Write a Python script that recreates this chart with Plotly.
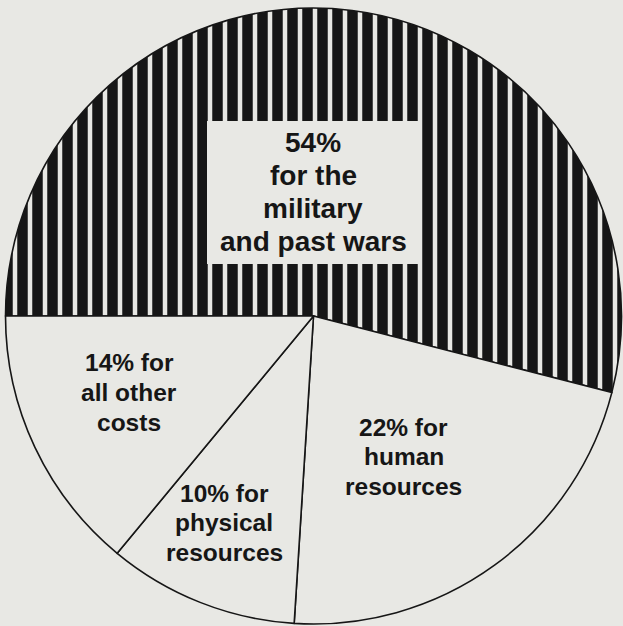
import plotly.graph_objects as go

# Data
categories = ["for the military and past wars", "for human resources",
              "for physical resources", "for all other costs"]
shares = [54, 22, 10, 14]
label_lines = [
    ["54%", "for the", "military", "and past wars"],
    ["22% for", "human", "resources"],
    ["10% for", "physical", "resources"],
    ["14% for", "all other", "costs"],
]

W, H = 623, 626
BG = "#e8e8e4"
INK = "#161616"

fig = go.Figure(go.Pie(
    labels=categories,
    values=shares,
    sort=False,
    direction="clockwise",
    rotation=270,
    textinfo="none",
    hoverinfo="label+value",
    showlegend=False,
    marker=dict(
        colors=[BG, BG, BG, BG],
        line=dict(color=INK, width=1.6),
        pattern=dict(
            shape=["|", "", "", ""],
            fgcolor=INK,
            bgcolor=BG,
            size=15,
            solidity=0.7,
        ),
    ),
    domain=dict(x=[(313.5 - 308) / W, (313.5 + 308) / W],
                y=[(H - 316 - 308) / H, (H - 316 + 308) / H]),
))

# label layout (pixel positions): center x, first line center y, line step, font size
placements = [
    (313, 142.5, 33.0, 28),
    (404, 427.0, 29.8, 24.5),
    (224, 493.0, 29.8, 24.5),
    (129, 362.5, 29.8, 24.5),
]

annos = []
for lines, (cx, y0, step, fs) in zip(label_lines, placements):
    for i, line in enumerate(lines):
        annos.append(dict(
            x=cx / W, y=1 - (y0 + i * step) / H, xref="paper", yref="paper",
            text="<b>" + line + "</b>", showarrow=False,
            xanchor="center", yanchor="middle",
            font=dict(family="Liberation Sans", size=fs, color=INK)))

# plain box behind the military label
box = dict(type="rect", xref="paper", yref="paper",
           x0=207 / W, x1=419 / W, y0=1 - 264 / H, y1=1 - 121 / H,
           fillcolor=BG, line=dict(width=0), layer="above")

fig.update_layout(
    width=W, height=H,
    margin=dict(l=0, r=0, t=0, b=0),
    paper_bgcolor=BG, plot_bgcolor=BG,
    annotations=annos,
    shapes=[box],
)

fig.write_html("out.html",
               config={"displayModeBar": False},
               post_script="document.body.style.margin='0';"
                           "document.body.style.background='%s';"
                           "document.body.style.overflow='hidden';" % BG)
